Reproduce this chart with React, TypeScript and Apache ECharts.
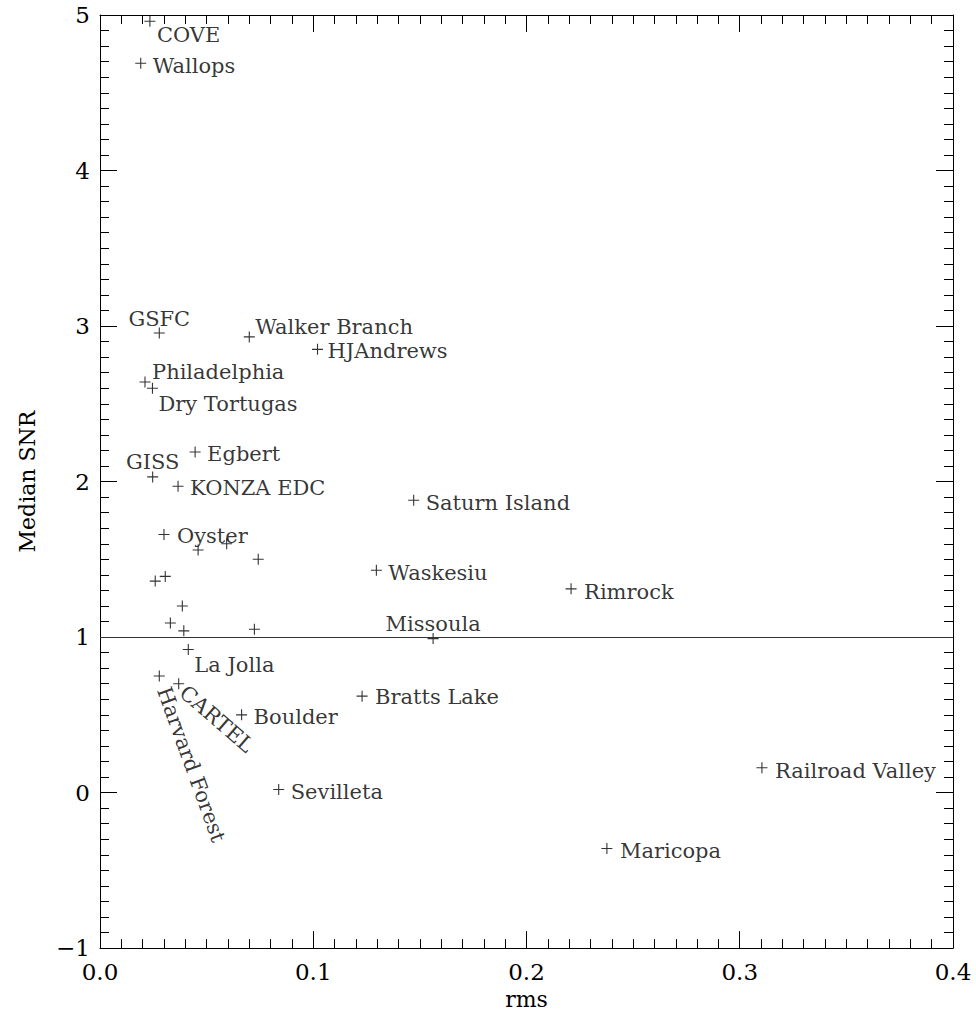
import React, { useEffect, useRef } from "react";
import * as echarts from "echarts";

const siteNames = [
  "COVE", "Wallops", "GSFC", "Walker Branch", "HJAndrews", "Philadelphia", "Dry Tortugas",
  "GISS", "Egbert", "KONZA EDC", "Saturn Island", "Oyster", "", "", "", "Waskesiu", "Rimrock",
  "", "", "", "", "", "", "Missoula", "La Jolla", "Harvard Forest", "CARTEL", "Boulder",
  "Bratts Lake", "Sevilleta", "Railroad Valley", "Maricopa",
];
const rmsValues = [
  0.0234, 0.0191, 0.0278, 0.0700, 0.1020, 0.0211, 0.0246,
  0.0247, 0.0446, 0.0366, 0.1471, 0.0300, 0.0460, 0.0594, 0.0742, 0.1296, 0.2209,
  0.0259, 0.0306, 0.0386, 0.0330, 0.0393, 0.0724, 0.1562, 0.0414, 0.0278, 0.0369, 0.0664,
  0.1229, 0.0838, 0.3104, 0.2377,
];
const snrValues = [
  4.96, 4.69, 2.955, 2.93, 2.85, 2.64, 2.60,
  2.03, 2.19, 1.97, 1.88, 1.66, 1.56, 1.60, 1.50, 1.43, 1.31,
  1.36, 1.39, 1.20, 1.09, 1.04, 1.05, 0.99, 0.92, 0.75, 0.70, 0.50,
  0.62, 0.02, 0.16, -0.36,
];
const xTicks = [0, 0.1, 0.2, 0.3, 0.4];
const yTicks = [-1, 0, 1, 2, 3, 4, 5];
const referenceSNR = 1;

// label placement (pixel offsets from the marker centre)
type Place = { dx: number; dy: number; align: "left" | "center" | "right"; rotate?: number };
const labelPlace: Record<string, Place> = {
  "COVE": { dx: 7, dy: 14, align: "left" },
  "Wallops": { dx: 12, dy: 3, align: "left" },
  "GSFC": { dx: 0, dy: -14, align: "center" },
  "Walker Branch": { dx: 6, dy: -10, align: "left" },
  "HJAndrews": { dx: 10, dy: 2, align: "left" },
  "Philadelphia": { dx: 7, dy: -10, align: "left" },
  "Dry Tortugas": { dx: 6, dy: 16, align: "left" },
  "GISS": { dx: 0, dy: -15, align: "center" },
  "Egbert": { dx: 12, dy: 2, align: "left" },
  "KONZA EDC": { dx: 12, dy: 2, align: "left" },
  "Saturn Island": { dx: 12, dy: 3, align: "left" },
  "Oyster": { dx: 13, dy: 2, align: "left" },
  "Waskesiu": { dx: 12, dy: 3, align: "left" },
  "Rimrock": { dx: 13, dy: 3, align: "left" },
  "Missoula": { dx: 0, dy: -15, align: "center" },
  "La Jolla": { dx: 6, dy: 15, align: "left" },
  "Harvard Forest": { dx: 4, dy: 12, align: "left", rotate: -70 },
  "CARTEL": { dx: 4, dy: 6, align: "left", rotate: -41 },
  "Boulder": { dx: 12, dy: 2, align: "left" },
  "Bratts Lake": { dx: 13, dy: 1, align: "left" },
  "Sevilleta": { dx: 12, dy: 3, align: "left" },
  "Railroad Valley": { dx: 13, dy: 3, align: "left" },
  "Maricopa": { dx: 13, dy: 2, align: "left" },
};

const FONT = "DejaVu Serif";
const SYM = 11;
const plusPath = "path://M0,4.5H10V5.5H0Z M4.5,0H5.5V10H4.5Z";

export default function App() {
  const ref = useRef<HTMLDivElement>(null);
  useEffect(() => {
    document.body.style.margin = "0";
    document.body.style.overflow = "hidden";
    const chart = echarts.init(ref.current!, null, { renderer: "svg" });
    const W = chart.getWidth();
    const H = chart.getHeight();
    const data = siteNames.map((name, i) => {
      const p = labelPlace[name];
      const item: any = { name, value: [rmsValues[i], snrValues[i]] };
      if (p) {
        item.label = {
          show: true,
          formatter: name,
          position: [SYM / 2 + p.dx, SYM / 2 + p.dy],
          align: p.align,
          verticalAlign: "middle",
          rotate: p.rotate ?? 0,
        };
      } else {
        item.label = { show: false };
      }
      return item;
    });
    const axisCommon = {
      type: "value" as const,
      axisLine: { show: true, onZero: false, lineStyle: { color: "#000", width: 1 } },
      axisTick: { show: true, inside: true, length: 17, lineStyle: { color: "#000", width: 1 } },
      minorTick: { show: true, splitNumber: 10, length: 9, lineStyle: { color: "#000", width: 1 } },
      splitLine: { show: false },
    };
    chart.setOption({
      animation: false,
      backgroundColor: "#fff",
      grid: { left: 100, right: W - 953, top: 15, bottom: H - 949, containLabel: false },
      xAxis: [
        {
          ...axisCommon,
          position: "bottom",
          min: xTicks[0],
          max: xTicks[xTicks.length - 1],
          interval: 0.1,
          name: "rms",
          nameLocation: "middle",
          nameGap: 38,
          nameTextStyle: { fontFamily: FONT, fontSize: 22, color: "#000" },
          axisLabel: {
            show: true,
            margin: 12,
            fontFamily: FONT,
            fontSize: 23,
            color: "#000",
            formatter: (v: number) => v.toFixed(1),
          },
        },
        {
          ...axisCommon,
          position: "top",
          min: xTicks[0],
          max: xTicks[xTicks.length - 1],
          interval: 0.1,
          axisLabel: { show: false },
        },
      ],
      yAxis: [
        {
          ...axisCommon,
          position: "left",
          min: yTicks[0],
          max: yTicks[yTicks.length - 1],
          interval: 1,
          name: "Median SNR",
          nameLocation: "middle",
          nameGap: 62,
          nameRotate: 90,
          nameTextStyle: { fontFamily: FONT, fontSize: 22, color: "#000" },
          axisLabel: {
            show: true,
            margin: 10,
            fontFamily: FONT,
            fontSize: 23,
            color: "#000",
            formatter: (v: number) => (v < 0 ? "\u2212" + Math.abs(v) : String(v)),
          },
        },
        {
          ...axisCommon,
          position: "right",
          min: yTicks[0],
          max: yTicks[yTicks.length - 1],
          interval: 1,
          axisLabel: { show: false },
        },
      ],
      series: [
        {
          type: "scatter",
          xAxisIndex: 0,
          yAxisIndex: 0,
          symbol: plusPath,
          symbolSize: SYM,
          itemStyle: { color: "#000" },
          label: { fontFamily: FONT, fontSize: 21, color: "#000" },
          emphasis: { disabled: true },
          data,
          markLine: {
            silent: true,
            symbol: "none",
            label: { show: false },
            lineStyle: { color: "#333", width: 1, type: "solid" },
            data: [{ yAxis: referenceSNR }],
          },
        },
      ],
    });
    return () => chart.dispose();
  }, []);
  return (
    <div
      ref={ref}
      style={{ position: "fixed", left: 0, top: 0, width: 976, height: 1015 }}
    />
  );
}
